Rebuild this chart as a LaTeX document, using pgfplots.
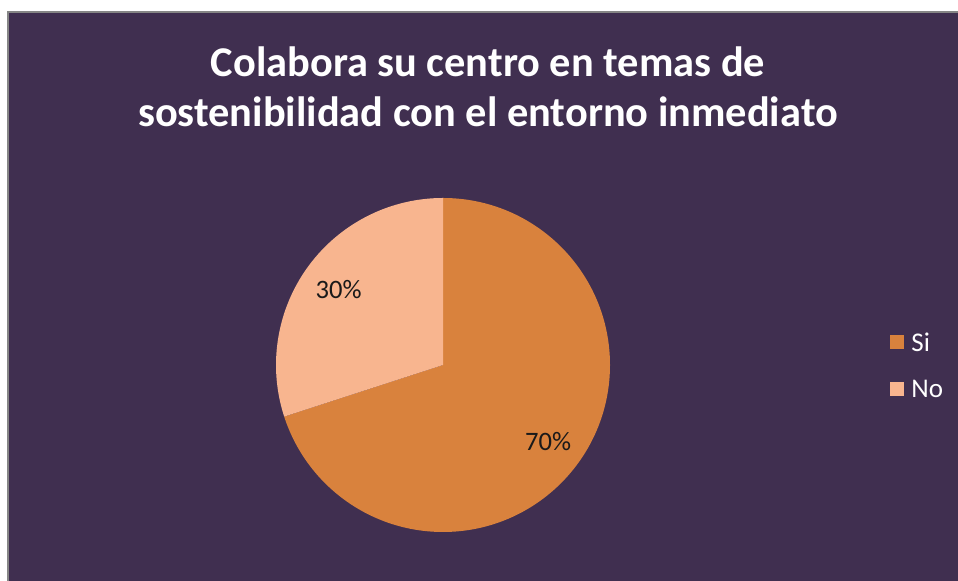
\documentclass[border=0pt]{standalone}
\usepackage{pgfplots}
\usepackage{pgfplotstable}
\pgfplotsset{compat=1.18}
\usepackage{fontspec}
\setmainfont{Carlito}

\definecolor{bgpurple}{HTML}{402F50}
\definecolor{frame}{HTML}{868686}
\definecolor{siorange}{HTML}{D9823D}
\definecolor{nopeach}{HTML}{F8B58F}
\definecolor{lbl}{HTML}{1A1A1A}

\pgfplotstableread{
label value
Si 70
No 30
}\piedata

\begin{document}
\begin{tikzpicture}
% chart area
\fill[white] (0,0) rectangle (479pt,290.5pt);
\fill[bgpurple] (4pt,-5pt) rectangle (490pt,284.5pt);
\draw[frame, line width=1pt] (4pt,-5pt) -- (4pt,284.5pt) -- (490pt,284.5pt);

\node[white, font=\fontsize{21.2}{25}\selectfont\bfseries, align=center]
  at (244pt,247.2pt) {Colabora su centro en temas de\\sostenibilidad con el entorno inmediato};

\pgfplotstablegetelem{0}{value}\of\piedata \let\vSi\pgfplotsretval
\pgfplotstablegetelem{1}{value}\of\piedata \let\vNo\pgfplotsretval
\pgfmathsetmacro\dSi{-3.6*\vSi}
\pgfmathsetmacro\sNo{90-3.6*\vSi}
\pgfmathsetmacro\dNo{-3.6*\vNo}
\pgfmathsetmacro\mSi{90-1.8*\vSi}
\pgfmathsetmacro\mNo{90-3.6*\vSi-1.8*\vNo}

\begin{axis}[
    hide axis,
    scale only axis,
    width=167pt, height=167pt,
    xmin=-1, xmax=1, ymin=-1, ymax=1,
    at={(221.5pt,108pt)}, anchor=center,
    clip=false
]
\fill[siorange] (axis cs:0,0) -- ++(90:83.5pt) arc[start angle=90, delta angle=\dSi, radius=83.5pt] -- cycle;
\fill[nopeach] (axis cs:0,0) -- ++(\sNo:83.5pt) arc[start angle=\sNo, delta angle=\dNo, radius=83.5pt] -- cycle;
\path (axis cs:0,0) ++(\mSi:65pt) node[lbl, font=\fontsize{13.3}{16}\selectfont] {\vSi\%};
\path (axis cs:0,0) ++(\mNo:64.5pt) node[lbl, font=\fontsize{13.3}{16}\selectfont] {\vNo\%};
\end{axis}

% legend
\fill[siorange] (445pt,116pt) rectangle (452pt,123pt);
\node[white, anchor=west, inner sep=0pt, font=\fontsize{13.5}{16}\selectfont] at (455.5pt,119.5pt) {Si};
\fill[nopeach] (445pt,92.5pt) rectangle (452pt,99.5pt);
\node[white, anchor=west, inner sep=0pt, font=\fontsize{13.5}{16}\selectfont] at (455.5pt,96pt) {No};

\pgfresetboundingbox
\useasboundingbox (0,0) rectangle (479pt,290.5pt);
\end{tikzpicture}
\end{document}
